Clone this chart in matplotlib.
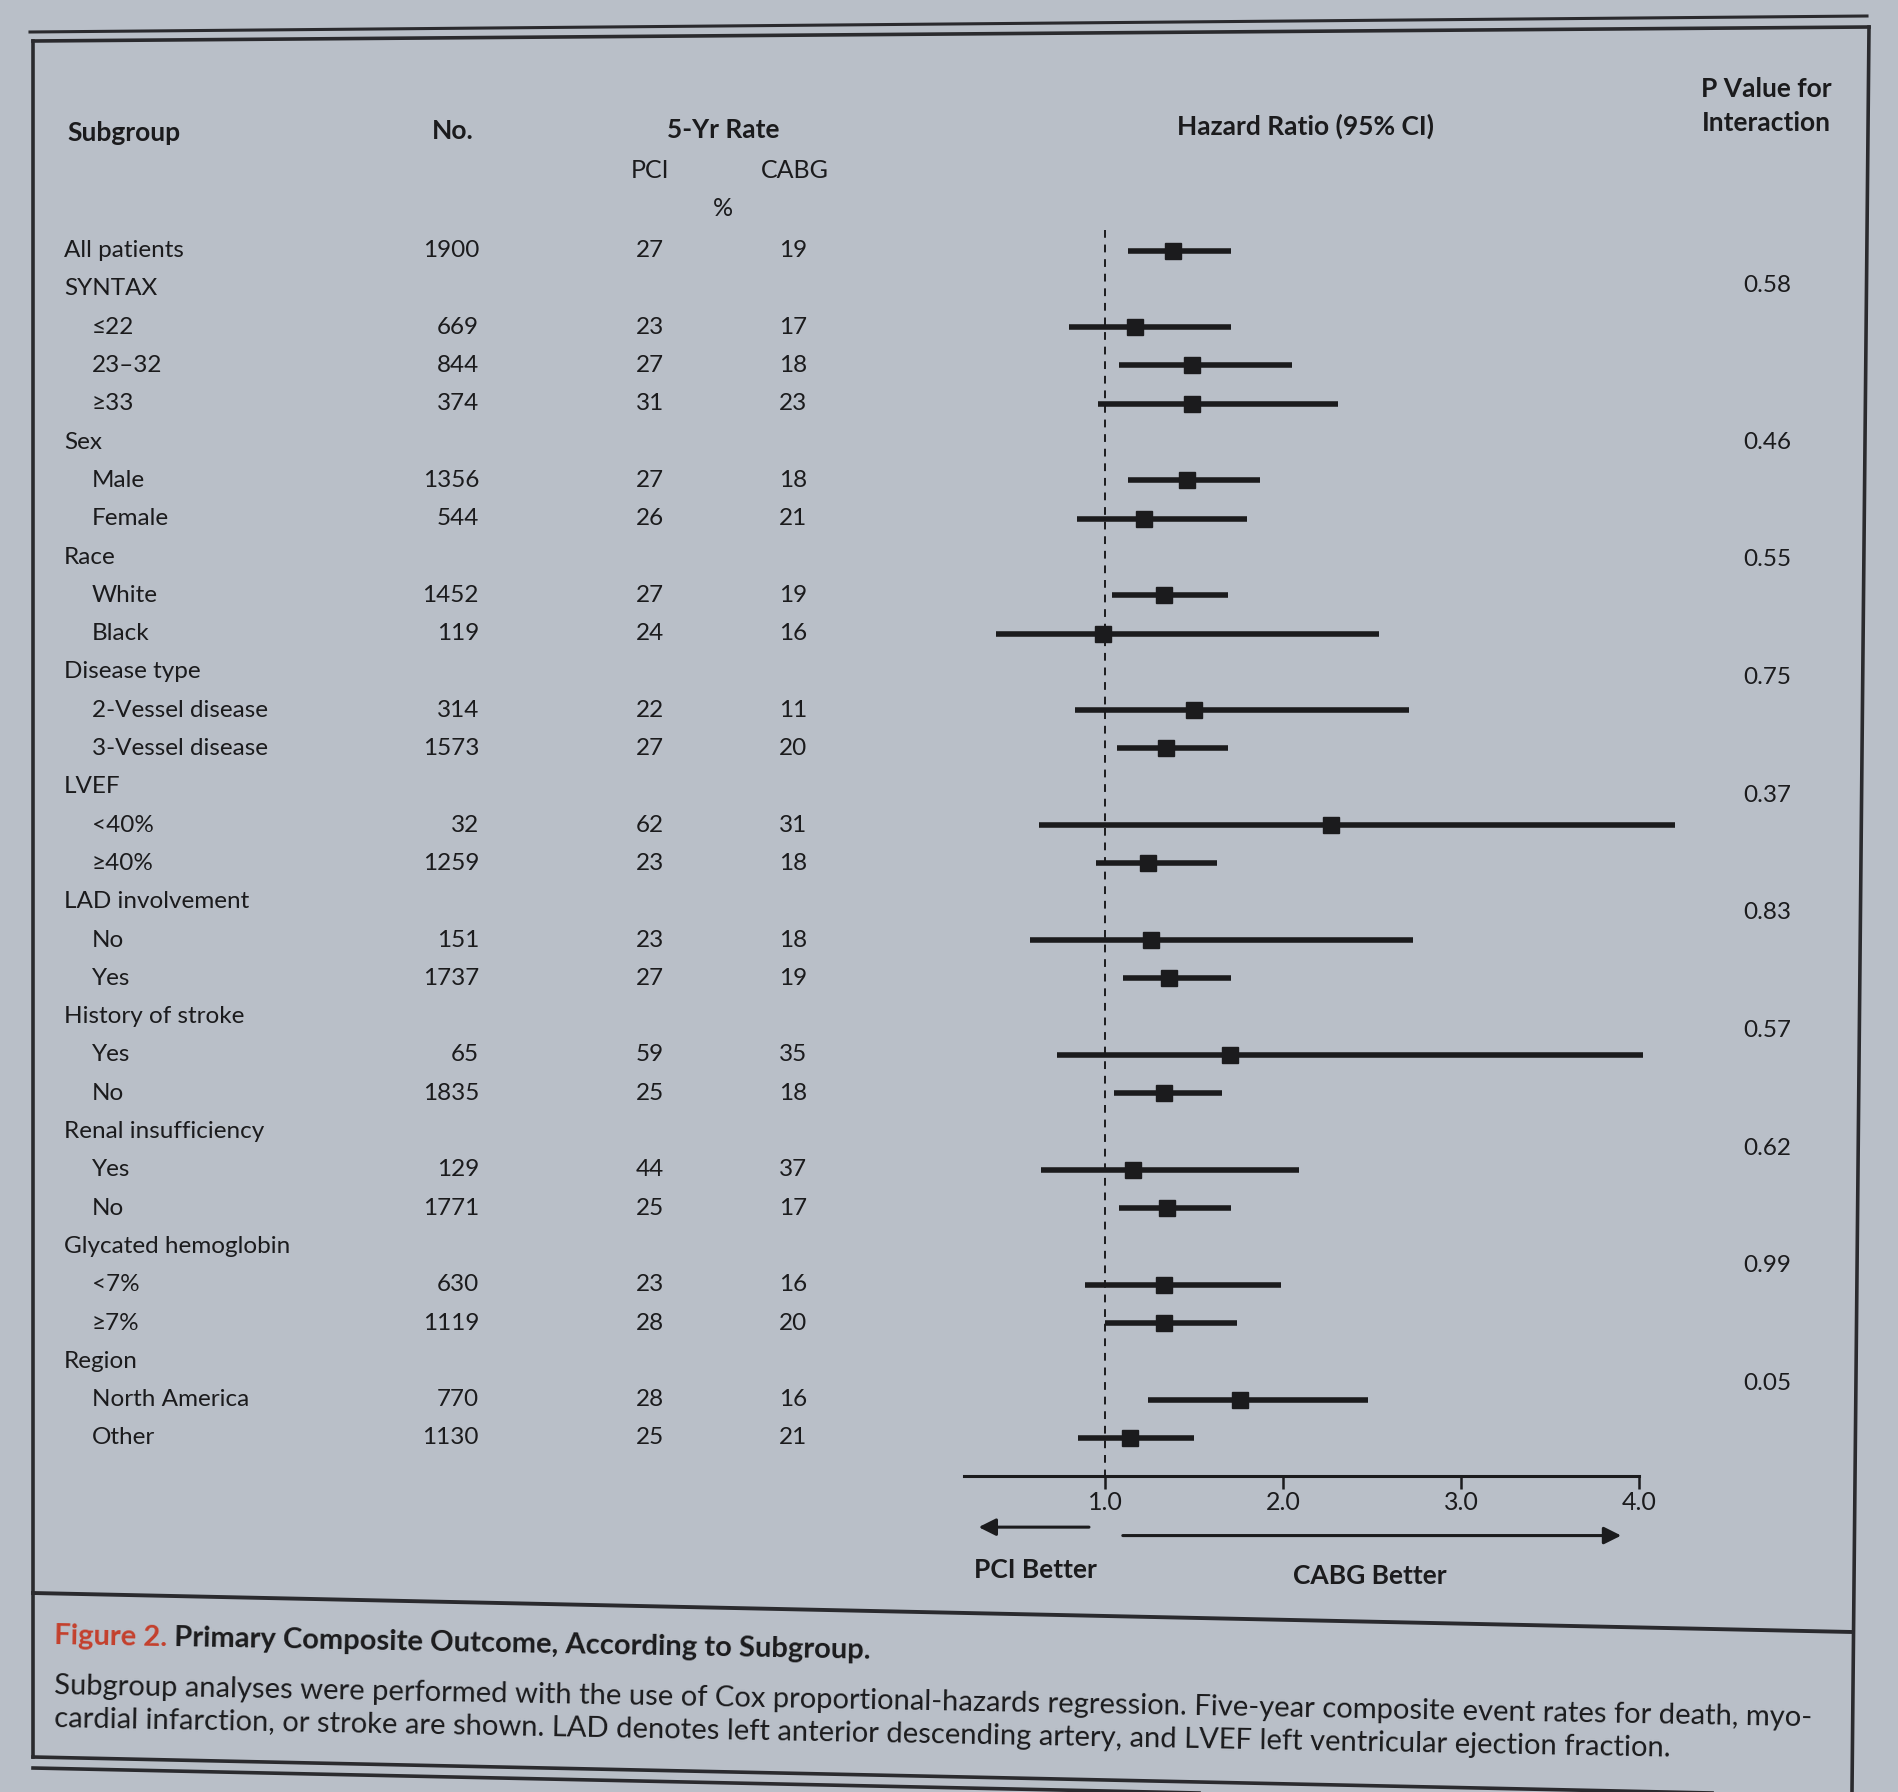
import numpy as np
import matplotlib.pyplot as plt
import matplotlib.transforms as mtransforms
from matplotlib.lines import Line2D

W, H = 1898, 1792
INK = "#1b1b1d"
PAPER = "#b9bfc8"
plt.rcParams["font.family"] = ["Lato", "DejaVu Sans"]

# Table data
subgroups = ["All patients", "SYNTAX", "≤22", "23–32", "≥33", "Sex", "Male", "Female",
             "Race", "White", "Black", "Disease type", "2-Vessel disease", "3-Vessel disease",
             "LVEF", "<40%", "≥40%", "LAD involvement", "No", "Yes", "History of stroke",
             "Yes", "No", "Renal insufficiency", "Yes", "No", "Glycated hemoglobin",
             "<7%", "≥7%", "Region", "North America", "Other"]
indented = [0, 0, 1, 1, 1, 0, 1, 1, 0, 1, 1, 0, 1, 1, 0, 1, 1, 0, 1, 1, 0, 1, 1, 0, 1, 1,
            0, 1, 1, 0, 1, 1]
n_patients = ["1900", "", "669", "844", "374", "", "1356", "544", "", "1452", "119", "",
              "314", "1573", "", "32", "1259", "", "151", "1737", "", "65", "1835", "",
              "129", "1771", "", "630", "1119", "", "770", "1130"]
rate_pci = ["27", "", "23", "27", "31", "", "27", "26", "", "27", "24", "", "22", "27", "",
            "62", "23", "", "23", "27", "", "59", "25", "", "44", "25", "", "23", "28", "",
            "28", "25"]
rate_cabg = ["19", "", "17", "18", "23", "", "18", "21", "", "19", "16", "", "11", "20", "",
             "31", "18", "", "18", "19", "", "35", "18", "", "37", "17", "", "16", "20", "",
             "16", "21"]

nan = np.nan
hr = [1.38, nan, 1.17, 1.49, 1.49, nan, 1.46, 1.22, nan, 1.33, 0.99, nan, 1.50, 1.34,
      nan, 2.27, 1.24, nan, 1.26, 1.36, nan, 1.70, 1.33, nan, 1.16, 1.35, nan, 1.33, 1.33,
      nan, 1.76, 1.14]
ci_low = [1.13, nan, 0.80, 1.08, 0.96, nan, 1.13, 0.84, nan, 1.04, 0.39, nan, 0.83, 1.07,
          nan, 0.63, 0.95, nan, 0.58, 1.10, nan, 0.73, 1.05, nan, 0.64, 1.08, nan, 0.89,
          1.00, nan, 1.24, 0.85]
ci_high = [1.71, nan, 1.71, 2.05, 2.31, nan, 1.87, 1.80, nan, 1.69, 2.54, nan, 2.71, 1.69,
           nan, 4.20, 1.63, nan, 2.73, 1.71, nan, 4.02, 1.66, nan, 2.09, 1.71, nan, 1.99,
           1.74, nan, 2.48, 1.50]

p_rows = [1, 5, 8, 11, 14, 17, 20, 23, 26, 29]
p_values = ["0.58", "0.46", "0.55", "0.75", "0.37", "0.83", "0.57", "0.62", "0.99", "0.05"]

fig = plt.figure(figsize=(W / 100, H / 100), dpi=100, facecolor=PAPER)

# background axes in pixel units for frame, headers and caption
bg = fig.add_axes([0, 0, 1, 1], zorder=0)
bg.set_xlim(0, W)
bg.set_ylim(H, 0)
bg.axis("off")

# forest axes: HR on x, row index on y
row0, row_h = 250.6, 38.3
x_at_1, px_per_unit = 1105, 178
x0, x1 = 0.2, 4.3
y_top, y_bot = -0.6, 32.0
left = x_at_1 + (x0 - 1) * px_per_unit
right = x_at_1 + (x1 - 1) * px_per_unit
top = row0 + y_top * row_h
bottom = row0 + y_bot * row_h
ax = fig.add_axes([left / W, 1 - bottom / H, (right - left) / W, (bottom - top) / H],
                  zorder=2)
ax.set_facecolor("none")
ax.set_xlim(x0, x1)
ax.set_ylim(y_bot, y_top)

rows = np.arange(len(subgroups))
ax.plot([1, 1], [-0.55, y_bot], color=INK, lw=1.4, ls=(0, (4, 3.5)))
ax.hlines(rows, ci_low, ci_high, color=INK, lw=4.0)
ax.plot(hr, rows, ls="none", marker="s", ms=11, color=INK)

for s in ["top", "left", "right"]:
    ax.spines[s].set_visible(False)
ax.spines["bottom"].set_bounds(0.21, 4.0)
ax.spines["bottom"].set_linewidth(2.2)
ax.spines["bottom"].set_color(INK)
ax.set_yticks([])
ax.set_xticks([1, 2, 3, 4])
ax.set_xticklabels(["1.0", "2.0", "3.0", "4.0"])
ax.tick_params(axis="x", direction="out", length=9, width=1.8, color=INK,
               labelsize=18, labelcolor=INK, pad=2)

arrow = dict(arrowstyle="-|>", lw=2.2, color=INK, mutation_scale=26,
             shrinkA=0, shrinkB=0)
ax.annotate("", xy=(0.29, 33.33), xytext=(0.91, 33.33), arrowprops=arrow,
            annotation_clip=False)
ax.annotate("", xy=(3.90, 33.55), xytext=(1.10, 33.55), arrowprops=arrow,
            annotation_clip=False)
ax.text(0.61, 34.45, "PCI Better", ha="center", va="center", fontsize=19,
        fontweight="bold", color=INK, clip_on=False)
ax.text(2.49, 34.6, "CABG Better", ha="center", va="center", fontsize=19,
        fontweight="bold", color=INK, clip_on=False)

# table columns: x in pixels (bg), y in rows (forest axes)
tr = mtransforms.blended_transform_factory(bg.transData, ax.transData)
fs = 17.5
for i, name in enumerate(subgroups):
    bg.text(92 if indented[i] else 64, i, name, transform=tr, ha="left", va="center",
            fontsize=fs, color=INK)
    bg.text(479, i, n_patients[i], transform=tr, ha="right", va="center", fontsize=fs,
            color=INK)
    bg.text(650, i, rate_pci[i], transform=tr, ha="center", va="center", fontsize=fs,
            color=INK)
    bg.text(793, i, rate_cabg[i], transform=tr, ha="center", va="center", fontsize=fs,
            color=INK)

# P values sit a bit lower toward the bottom (page tilt)
for r, p in zip(p_rows, p_values):
    bg.text(1767, r - 0.12 + 0.024 * r, p, transform=tr, ha="center", va="center",
            fontsize=fs, color=INK)

# column headers
hdr = dict(fontsize=19, color=INK, va="center", fontweight="bold")
bg.text(67, 133, "Subgroup", ha="left", **hdr)
bg.text(453, 131, "No.", ha="center", **hdr)
bg.text(723, 130, "5-Yr Rate", ha="center", **hdr)
bg.text(1306, 126, "Hazard Ratio (95% CI)", ha="center", **hdr)
bg.text(1766, 89, "P Value for", ha="center", **hdr)
bg.text(1766, 123, "Interaction", ha="center", **hdr)
sub = dict(fontsize=18, color=INK, va="center", ha="center")
bg.text(650, 170, "PCI", **sub)
bg.text(795, 170, "CABG", **sub)
bg.text(723, 208, "%", **sub)

# page frame
frame = [((30, 1867), (32, 16), 2.2),
         ((33, 1869), (41, 27), 2.6),
         ((33, 33), (41, 1757), 2.6),
         ((1869, 1852), (27, 1792), 2.6),
         ((33, 1852), (1593, 1632), 2.8),
         ((33, 1852), (1757, 1796), 2.6),
         ((33, 1852), (1768, 1807), 2.6)]
for xs, ys, lw in frame:
    bg.add_line(Line2D(xs, ys, color="#2a2a2e", lw=lw))

# caption, following the slight tilt of the page
tilt = -1.05
slope = np.tan(np.radians(-tilt))
cap = dict(ha="left", va="baseline", rotation=tilt, rotation_mode="anchor", color=INK)
t1 = bg.text(54, 1644, "Figure 2. ", fontsize=21, fontweight="bold", color="#c4402c",
             ha="left", va="baseline", rotation_mode="anchor")
fig.canvas.draw()
w1 = t1.get_window_extent().width
t1.set_rotation(tilt)
bg.text(54 + w1, 1644 + w1 * slope, "Primary Composite Outcome, According to Subgroup.",
        fontsize=21, fontweight="bold", **cap)
bg.text(54, 1694, "Subgroup analyses were performed with the use of Cox proportional-hazards "
        "regression. Five-year composite event rates for death, myo-", fontsize=21, **cap)
bg.text(54, 1727, "cardial infarction, or stroke are shown. LAD denotes left anterior "
        "descending artery, and LVEF left ventricular ejection fraction.", fontsize=21, **cap)

fig.savefig("out.png", dpi=100, facecolor=PAPER)
